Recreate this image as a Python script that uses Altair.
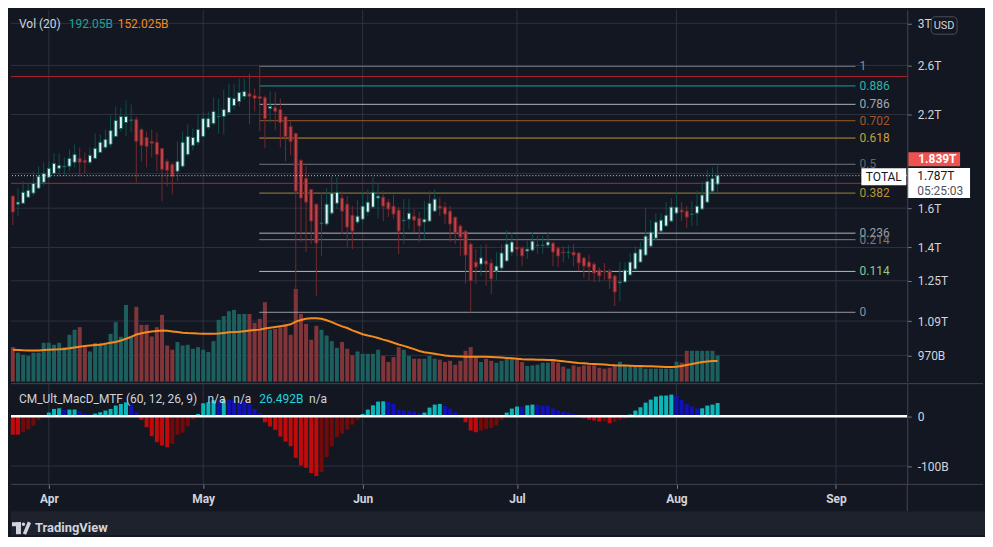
import altair as alt
import pandas as pd
import numpy as np

# ---------------- data ----------------
first_date = "2021-03-25"
month_start = "2021-04-01"

opens = [1.667,1.622,1.627,1.661,1.684,1.712,1.747,1.777,1.801,1.832,
 1.842,1.845,1.870,1.895,1.883,1.870,1.895,1.934,1.967,1.988,
 2.042,2.098,2.141,2.156,2.163,2.091,2.035,2.008,2.002,1.961,
 1.876,1.857,1.814,1.845,1.921,1.981,2.002,2.042,2.105,2.134,
 2.183,2.185,2.215,2.268,2.299,2.339,2.363,2.347,2.339,2.331,
 2.246,2.253,2.238,2.185,2.112,2.063,1.883,1.771,1.706,1.622,
 1.518,1.516,1.573,1.627,1.656,1.622,1.562,1.526,1.541,1.579,
 1.606,1.656,1.661,1.633,1.611,1.590,1.533,1.541,1.557,1.546,
 1.526,1.531,1.584,1.611,1.606,1.584,1.552,1.506,1.480,1.416,
 1.332,1.323,1.337,1.328,1.292,1.305,1.337,1.378,1.402,1.397,
 1.383,1.387,1.409,1.409,1.411,1.421,1.397,1.378,1.376,1.378,
 1.374,1.351,1.332,1.323,1.296,1.292,1.292,1.271,1.241,1.245,
 1.275,1.301,1.332,1.364,1.406,1.445,1.480,1.506,1.531,1.573,
 1.590,1.584,1.566,1.573,1.595,1.633,1.695,1.736]

highs = [1.673,1.712,1.753,1.747,1.814,1.845,1.870,1.876,1.928,1.928,
 1.902,1.954,1.988,1.967,1.934,1.967,2.063,2.056,2.091,2.193,
 2.261,2.253,2.307,2.276,2.185,2.105,2.077,2.091,2.070,1.963,
 1.889,1.870,2.008,2.077,2.127,2.098,2.200,2.223,2.223,2.331,
 2.323,2.395,2.444,2.444,2.486,2.486,2.528,2.403,2.592,2.347,
 2.379,2.371,2.323,2.187,2.149,2.065,1.889,1.845,1.708,1.624,
 1.689,1.712,1.783,1.777,1.695,1.667,1.611,1.644,1.689,1.706,
 1.777,1.747,1.695,1.650,1.673,1.606,1.650,1.650,1.595,1.579,
 1.639,1.695,1.706,1.661,1.633,1.611,1.554,1.516,1.485,1.426,
 1.392,1.411,1.416,1.346,1.378,1.416,1.485,1.475,1.440,1.406,
 1.430,1.475,1.460,1.457,1.475,1.426,1.406,1.406,1.411,1.416,
 1.376,1.355,1.364,1.332,1.310,1.328,1.301,1.275,1.332,1.332,
 1.374,1.406,1.426,1.600,1.536,1.573,1.573,1.633,1.656,1.689,
 1.633,1.611,1.639,1.695,1.753,1.820,1.838,1.857]

lows = [1.511,1.557,1.622,1.656,1.667,1.706,1.724,1.771,1.795,1.783,
 1.783,1.814,1.838,1.783,1.801,1.857,1.889,1.928,1.954,1.967,
 2.035,2.077,2.042,2.070,1.747,1.876,1.838,1.902,1.814,1.639,
 1.724,1.678,1.753,1.838,1.908,1.948,1.981,2.035,2.091,2.120,
 2.063,2.056,2.200,2.238,2.261,2.315,2.127,2.223,2.077,1.961,
 2.141,2.084,1.967,1.876,1.915,1.195,1.426,1.378,1.416,1.187,
 1.360,1.506,1.562,1.595,1.465,1.402,1.392,1.516,1.526,1.557,
 1.600,1.546,1.531,1.552,1.541,1.369,1.416,1.490,1.475,1.426,
 1.440,1.526,1.579,1.557,1.516,1.426,1.416,1.360,1.237,1.123,
 1.237,1.271,1.229,1.195,1.250,1.292,1.332,1.360,1.360,1.314,
 1.346,1.378,1.369,1.369,1.397,1.314,1.310,1.332,1.346,1.314,
 1.292,1.262,1.250,1.245,1.245,1.254,1.216,1.147,1.167,1.241,
 1.271,1.292,1.330,1.360,1.402,1.435,1.475,1.504,1.526,1.557,
 1.531,1.495,1.506,1.506,1.590,1.627,1.684,1.689]

closes = [1.579,1.633,1.689,1.700,1.741,1.783,1.801,1.832,1.863,1.851,
 1.845,1.895,1.921,1.870,1.870,1.915,1.961,2.002,2.022,2.084,
 2.156,2.185,2.185,2.160,2.008,1.981,1.974,1.995,1.921,1.826,
 1.820,1.783,1.876,2.002,2.042,2.035,2.091,2.170,2.170,2.223,
 2.186,2.238,2.331,2.323,2.371,2.379,2.339,2.323,2.323,2.170,
 2.261,2.223,2.141,2.042,2.008,1.695,1.656,1.633,1.531,1.421,
 1.521,1.622,1.684,1.689,1.584,1.500,1.480,1.557,1.611,1.633,
 1.689,1.667,1.611,1.595,1.568,1.480,1.536,1.573,1.536,1.506,
 1.541,1.627,1.650,1.600,1.568,1.516,1.470,1.450,1.364,1.250,
 1.310,1.351,1.323,1.258,1.314,1.374,1.416,1.426,1.392,1.360,
 1.392,1.430,1.411,1.411,1.426,1.378,1.360,1.374,1.378,1.364,
 1.328,1.314,1.310,1.283,1.271,1.288,1.258,1.203,1.245,1.296,
 1.332,1.374,1.392,1.455,1.475,1.526,1.536,1.562,1.606,1.606,
 1.579,1.552,1.568,1.611,1.673,1.753,1.771,1.787]

volumes = [253,212,197,188,212,212,285,285,270,285,
 253,343,380,399,263,221,283,283,270,350,
 436,329,562,336,548,416,416,331,399,489,
 265,234,290,265,270,241,253,234,217,297,
 453,480,516,526,496,496,496,431,460,582,
 380,387,399,423,343,679,496,423,307,409,
 380,338,297,248,290,241,192,221,204,204,
 204,234,188,144,180,253,234,188,168,168,
 168,188,168,161,144,153,124,153,226,253,
 180,144,168,153,139,153,168,173,168,144,
 115,119,124,139,139,153,139,110,95,119,
 110,119,119,119,102,95,102,124,146,119,
 119,119,115,95,95,95,95,95,95,146,
 139,226,226,226,226,226,226,192]

vol_ma = [234,232,230,229,228,229,231,233,235,237,
 240,244,250,256,262,265,268,271,278,285,
 291,302,314,328,345,355,362,367,371,374,
 372,368,364,359,356,354,352,351,350,350,
 353,357,361,363,366,370,374,378,381,389,
 395,401,406,411,420,440,452,460,464,465,
 460,450,436,420,405,393,376,362,347,338,
 330,320,308,298,285,272,262,250,238,225,
 216,210,204,198,192,188,186,185,183,183,
 183,183,183,181,179,177,174,171,168,165,
 163,162,161,160,159,158,154,150,145,141,
 137,134,131,129,127,125,122,120,119,118,
 117,115,114,113,112,111,110,108,107,110,
 114,122,130,137,144,148,151,152]

macd_hist = [-37,-37,-32,-26.7,-18.7,-7.3,1,7.4,14.7,16,
 12.7,13.4,13.6,9.4,4.7,3.4,5.4,8,11.4,14.7,
 21.4,24.7,28,23.4,8,-7.3,-22,-40,-52,-58.7,
 -62,-55.3,-37,-33,-20,-6.7,4.7,26,28,32,
 31,34,33,32,30,29,24,15,6,-12,
 -20.6,-27.3,-40.6,-50.6,-60,-83.3,-98.6,-103.3,-114,-120,
 -112,-82,-60.6,-42,-35.3,-26.6,-16.6,-7.3,4.7,13.4,
 22,29.4,30,29.4,24.7,12.7,11.4,11,9.4,6,
 7.4,17.4,23.4,24.7,20.7,15.4,8,-2,-12,-28.6,
 -32,-28.6,-25.3,-24,-18.6,-7.3,7.4,15.4,19.4,19,
 22,23.4,23,20.7,20.5,15.4,11.4,9.4,7.4,4.7,
 1.5,-4,-6.6,-8.6,-10.6,-10,-14,-11.3,-7.3,-4.6,
 3.4,11.4,18,27.4,33.4,39.4,41.4,41.6,43.4,40.7,
 32.7,24.7,19.4,15.4,16,21.4,23.4,26.5]

month_days = [0, 30, 61, 91, 122, 153]
month_labels = ["Apr", "May", "Jun", "Jul", "Aug", "Sep"]

price_tick_values = [0.97, 1.09, 1.25, 1.4, 1.6, 2.2, 2.6, 3.0]
price_tick_labels = ["970B", "1.09T", "1.25T", "1.4T", "1.6T", "2.2T", "2.6T", "3T"]
price_grid_values = [0.97, 1.09, 1.25, 1.4, 1.6, 1.8, 2.2, 2.6, 3.0]

macd_tick_values = [0, -100]
macd_tick_labels = ["0", "-100B"]

fib_levels = [1, 0.886, 0.786, 0.702, 0.618, 0.5, 0.382, 0.236, 0.214, 0.114, 0]
fib_texts = ["1", "0.886", "0.786", "0.702", "0.618", "0.5", "0.382", "0.236", "0.214", "0.114", "0"]
fib_line_colors = ["#787b86", "#1e9e93", "#b2b5be", "#9b5a28", "#c1932b", "#70737e",
                   "#a08534", "#b2b5be", "#80838d", "#9ad0a0", "#9598a1"]
fib_text_colors = ["#8b8e98", "#2bb4a5", "#a3a6af", "#a0582a", "#c9a03a", "#63666f",
                   "#b89536", "#9b9ea7", "#777a84", "#8dc88e", "#8b8e98"]
fib_high = 2.592
fib_low = 1.123
fib_start_day = 40.9
fib_end_day = 156.8
fib_label_day = 157.6

red_levels = [2.503, 1.741]
last_price = 1.787

# ---------------- styling ----------------
BG = "#131722"
OUTER = "#1e222d"
GRID = "#2e323e"
SEP = "#434651"
TXT = "#d1d4dc"
UP_FILL, UP_STROKE, UP_WICK = "#e2f3f1", "#12625d", "#0e4f4b"
DN_FILL, DN_STROKE, DN_WICK = "#c2414a", "#6e2529", "#72292d"
VOL_UP, VOL_DN = "#1d5e5e", "#813539"
MA_COL = "#f38b1d"
RED_LINE = "#b3232b"
AQUA, BLUE, RED, MAROON = "#0cb5b8", "#1111bb", "#c10b0b", "#720a0a"

# ---------------- tables ----------------
dates = pd.date_range(first_date, periods=len(closes), freq="D")
day = [(d - pd.Timestamp(month_start)).days for d in dates]

c = pd.DataFrame(dict(day=day, open=opens, high=highs, low=lows, close=closes,
                      vol=volumes, ma=vol_ma, hist=macd_hist))
up = c["close"] >= c["open"]
c["lo"] = c[["open", "close"]].min(axis=1)
c["hi"] = c[["open", "close"]].max(axis=1)
c["body_fill"] = np.where(up, UP_FILL, DN_FILL)
c["body_stroke"] = np.where(up, UP_STROKE, DN_STROKE)
c["wick_color"] = np.where(up, UP_WICK, DN_WICK)
c["vol_color"] = np.where(up, VOL_UP, VOL_DN)
hcol = []
for i, v in enumerate(macd_hist):
    p = macd_hist[i - 1] if i > 0 else v
    if v >= 0:
        hcol.append(AQUA if v > p else BLUE)
    else:
        hcol.append(MAROON if v > p else RED)
c["hist_color"] = hcol

fib = pd.DataFrame(dict(level=fib_levels, label=fib_texts,
                        lcolor=fib_line_colors, tcolor=fib_text_colors))
fib["price"] = fib_low + fib["level"] * (fib_high - fib_low)
fib["x0"] = fib_start_day
fib["x1"] = fib_end_day
fib["xl"] = fib_label_day

month_df = pd.DataFrame(dict(day=month_days))
pgrid_df = pd.DataFrame(dict(price=price_grid_values))
red_df = pd.DataFrame(dict(price=red_levels))
last_df = pd.DataFrame(dict(price=[last_price]))
one = pd.DataFrame(dict(k=[0]))


def label_expr(vals, labs):
    parts = [f"datum.value == {v} ? '{l}'" for v, l in zip(vals, labs)]
    return " : ".join(parts) + " : ''"


W, H_MAIN, H_MACD = 899, 373, 101
XS = alt.Scale(domain=[-7.36, 166.86], nice=False, zero=False, padding=0)
PS = alt.Scale(type="log", domain=[0.887, 3.141], nice=False, padding=0)
VS = alt.Scale(domain=[0, 2723], nice=False, zero=True, padding=0)
MS = alt.Scale(domain=[-136.6, 65.4], nice=False, zero=False, padding=0)

xq = alt.X("day:Q", scale=XS, axis=None)

price_axis = alt.Axis(orient="right", values=price_tick_values,
                      labelExpr=label_expr(price_tick_values, price_tick_labels),
                      grid=False, domainColor=SEP, tickColor="#787b86", tickSize=4,
                      labelColor=TXT, labelFontSize=12, labelPadding=6,
                      labelOverlap=False, labelFlush=False, title=None, zindex=1)

# every layer that shares the price scale carries the same axis definition
py = lambda f: alt.Y(f, scale=PS, axis=price_axis)

# ---------------- main pane ----------------
grid_layer = alt.layer(
    alt.Chart(month_df).mark_rule(color=GRID).encode(x=xq),
    alt.Chart(pgrid_df).mark_rule(color=GRID).encode(y=alt.Y("price:Q", scale=PS, axis=None)),
)

vol_layer = alt.layer(
    alt.Chart(c).mark_bar(size=4).encode(
        x=xq, y=alt.Y("vol:Q", scale=VS, axis=None),
        color=alt.Color("vol_color:N", scale=None)),
    alt.Chart(c).mark_line(color=MA_COL, strokeWidth=2).encode(
        x=xq, y=alt.Y("ma:Q", scale=VS, axis=None)),
)

red_lines = alt.Chart(red_df).mark_rule(color=RED_LINE, strokeWidth=1).encode(y=py("price:Q"))
fib_rules = alt.Chart(fib).mark_rule(strokeWidth=1).encode(
    x=alt.X("x0:Q", scale=XS, axis=None), x2="x1:Q", y=py("price:Q"),
    color=alt.Color("lcolor:N", scale=None))
fib_labels = alt.Chart(fib).mark_text(align="left", baseline="middle", fontSize=12).encode(
    x=alt.X("xl:Q", scale=XS, axis=None), y=py("price:Q"), text="label:N",
    color=alt.Color("tcolor:N", scale=None))
wicks = alt.Chart(c).mark_rule(strokeWidth=1).encode(
    x=xq, y=py("low:Q"), y2="high:Q", color=alt.Color("wick_color:N", scale=None))
bodies = alt.Chart(c).mark_bar(size=3, strokeWidth=1).encode(
    x=xq, y=py("lo:Q"), y2="hi:Q",
    fill=alt.Fill("body_fill:N", scale=None), stroke=alt.Stroke("body_stroke:N", scale=None))
dotted = alt.Chart(last_df).mark_rule(color="#c8cad2", strokeDash=[1, 2], strokeWidth=1).encode(
    y=py("price:Q"))


def txt(s, x, y, color=TXT, size=12, align="left", weight="normal", data=one, yenc=None, dy=0):
    m = alt.Chart(data).mark_text(text=s, color=color, fontSize=size, align=align,
                                  baseline="middle", fontWeight=weight, dy=dy)
    return m.encode(x=alt.value(x), y=(yenc if yenc is not None else alt.value(y)))


legend_texts = [
    txt("Vol (20)", 8, 14, TXT, 12),
    txt("192.05B", 58, 14, "#22a394", 12),
    txt("152.025B", 107, 14, "#f08a24", 12),
]

usd_box = alt.Chart(one).mark_rect(fill=BG, stroke="#4a4e5a", strokeWidth=1, cornerRadius=4).encode(
    x=alt.value(923), x2=alt.value(949), y=alt.value(7), y2=alt.value(24.5))
usd_text = txt("USD", 936, 16, TXT, 11, "center")

red_box = alt.Chart(one).mark_rect(color="#ef5350").encode(
    x=alt.value(900), x2=alt.value(952), y=alt.value(143), y2=alt.value(157))
red_box_text = txt("1.839T", 910, 150, "#ffffff", 12, "left", "bold")

price_box = alt.Chart(last_df).mark_point(
    shape="M-1,-0.476H1V0.476H-1Z", size=3969, filled=True, color="#ffffff",
    opacity=1, strokeWidth=0, yOffset=7.3).encode(x=alt.value(930.5), y=py("price:Q"))
total_box = alt.Chart(last_df).mark_point(
    shape="M-1,-0.378H1V0.378H-1Z", size=2025, filled=True, color="#ffffff",
    opacity=1, strokeWidth=0, yOffset=1).encode(x=alt.value(875.5), y=py("price:Q"))
price_txt = txt("1.787T", 909, 0, "#131722", 12, "left", data=last_df, yenc=py("price:Q"))
timer_txt = txt("05:25:03", 909, 0, "#50535e", 12, "left", data=last_df, yenc=py("price:Q"), dy=15)
total_txt = txt("TOTAL", 875.5, 0, "#131722", 12, "center", data=last_df, yenc=py("price:Q"), dy=1)

price_layer = alt.layer(red_lines, fib_rules, fib_labels, wicks, bodies, dotted,
                        *legend_texts, usd_box, usd_text, red_box, red_box_text,
                        total_box, price_box, price_txt, timer_txt, total_txt)

main = alt.layer(grid_layer, vol_layer, price_layer).resolve_scale(y="independent").properties(
    width=W, height=H_MAIN)

# ---------------- MACD pane ----------------
macd_axis = alt.Axis(orient="right", values=macd_tick_values,
                     labelExpr=label_expr(macd_tick_values, macd_tick_labels),
                     grid=False, domainColor=SEP, tickColor="#787b86", tickSize=4,
                     labelColor=TXT, labelFontSize=12, labelPadding=6,
                     labelOverlap=False, labelFlush=False, title=None, zindex=1)
x_axis = alt.Axis(values=month_days, labelExpr=label_expr(month_days, month_labels),
                  grid=False, domain=False, tickColor="#787b86", tickSize=4,
                  labelColor=TXT, labelFontSize=12, labelFontWeight="bold",
                  labelPadding=5, labelFlush=False, labelOverlap=False, title=None, zindex=1)
mx = alt.X("day:Q", scale=XS, axis=x_axis)
my = lambda f: alt.Y(f, scale=MS, axis=macd_axis)

mgrid_v = alt.Chart(month_df).mark_rule(color=GRID).encode(x=mx)
mgrid_h = alt.Chart(pd.DataFrame(dict(v=[-100]))).mark_rule(color=GRID).encode(y=my("v:Q"))
hist_bars = alt.Chart(c).mark_bar(size=4).encode(
    x=mx, y=my("hist:Q"), color=alt.Color("hist_color:N", scale=None))
zero_line = alt.Chart(pd.DataFrame(dict(v=[0]))).mark_rule(color="#ffffff", strokeWidth=2.5).encode(
    y=my("v:Q"))

macd_texts = [
    txt("CM_Ult_MacD_MTF (60, 12, 26, 9)", 8, 15, TXT, 12),
    txt("n/a", 197, 15, TXT, 12),
    txt("n/a", 223, 15, TXT, 12),
    txt("26.492B", 249, 15, "#1fd3e0", 12),
    txt("n/a", 299, 15, TXT, 12),
]

sep_top = alt.Chart(one).mark_rule(color=SEP, strokeWidth=1).encode(
    x=alt.value(0), x2=alt.value(975), y=alt.value(0))
sep_bot = alt.Chart(one).mark_rule(color=SEP, strokeWidth=1).encode(
    x=alt.value(0), x2=alt.value(975), y=alt.value(H_MACD))
sep_vert = alt.Chart(one).mark_rule(color=SEP, strokeWidth=1).encode(
    x=alt.value(W), y=alt.value(H_MACD), y2=alt.value(128))
bottom_strip = alt.Chart(one).mark_rect(color=OUTER).encode(
    x=alt.value(0), x2=alt.value(977), y=alt.value(128), y2=alt.value(152))
logo_bar = alt.Chart(one).mark_rect(color=TXT).encode(
    x=alt.value(1), x2=alt.value(10), y=alt.value(139), y2=alt.value(143))
logo_stem = alt.Chart(one).mark_rect(color=TXT).encode(
    x=alt.value(5), x2=alt.value(10), y=alt.value(139), y2=alt.value(151))
logo_dot = alt.Chart(one).mark_point(shape="circle", filled=True, size=12, color=TXT, opacity=1).encode(
    x=alt.value(12.5), y=alt.value(141))
logo_slash = alt.Chart(one).mark_rule(color=TXT, strokeWidth=3.5).encode(
    x=alt.value(13.5), x2=alt.value(18.5), y=alt.value(151), y2=alt.value(139))
logo_text = txt("TradingView", 24, 145, TXT, 13, "left", "bold")

macd = alt.layer(mgrid_v, mgrid_h, hist_bars, zero_line, *macd_texts,
                 sep_top, sep_bot, sep_vert, bottom_strip,
                 logo_bar, logo_stem, logo_dot, logo_slash, logo_text).properties(
    width=W, height=H_MACD)

chart = alt.vconcat(main, macd, spacing=0).properties(
    padding={"left": 0, "top": 0, "right": 0, "bottom": 0}
).configure(font="Roboto", background=BG).configure_view(stroke=None).configure_axis(
    labelFont="Roboto").configure_text(font="Roboto")

chart.save("out.html", embed_options={"renderer": "svg", "actions": False})
